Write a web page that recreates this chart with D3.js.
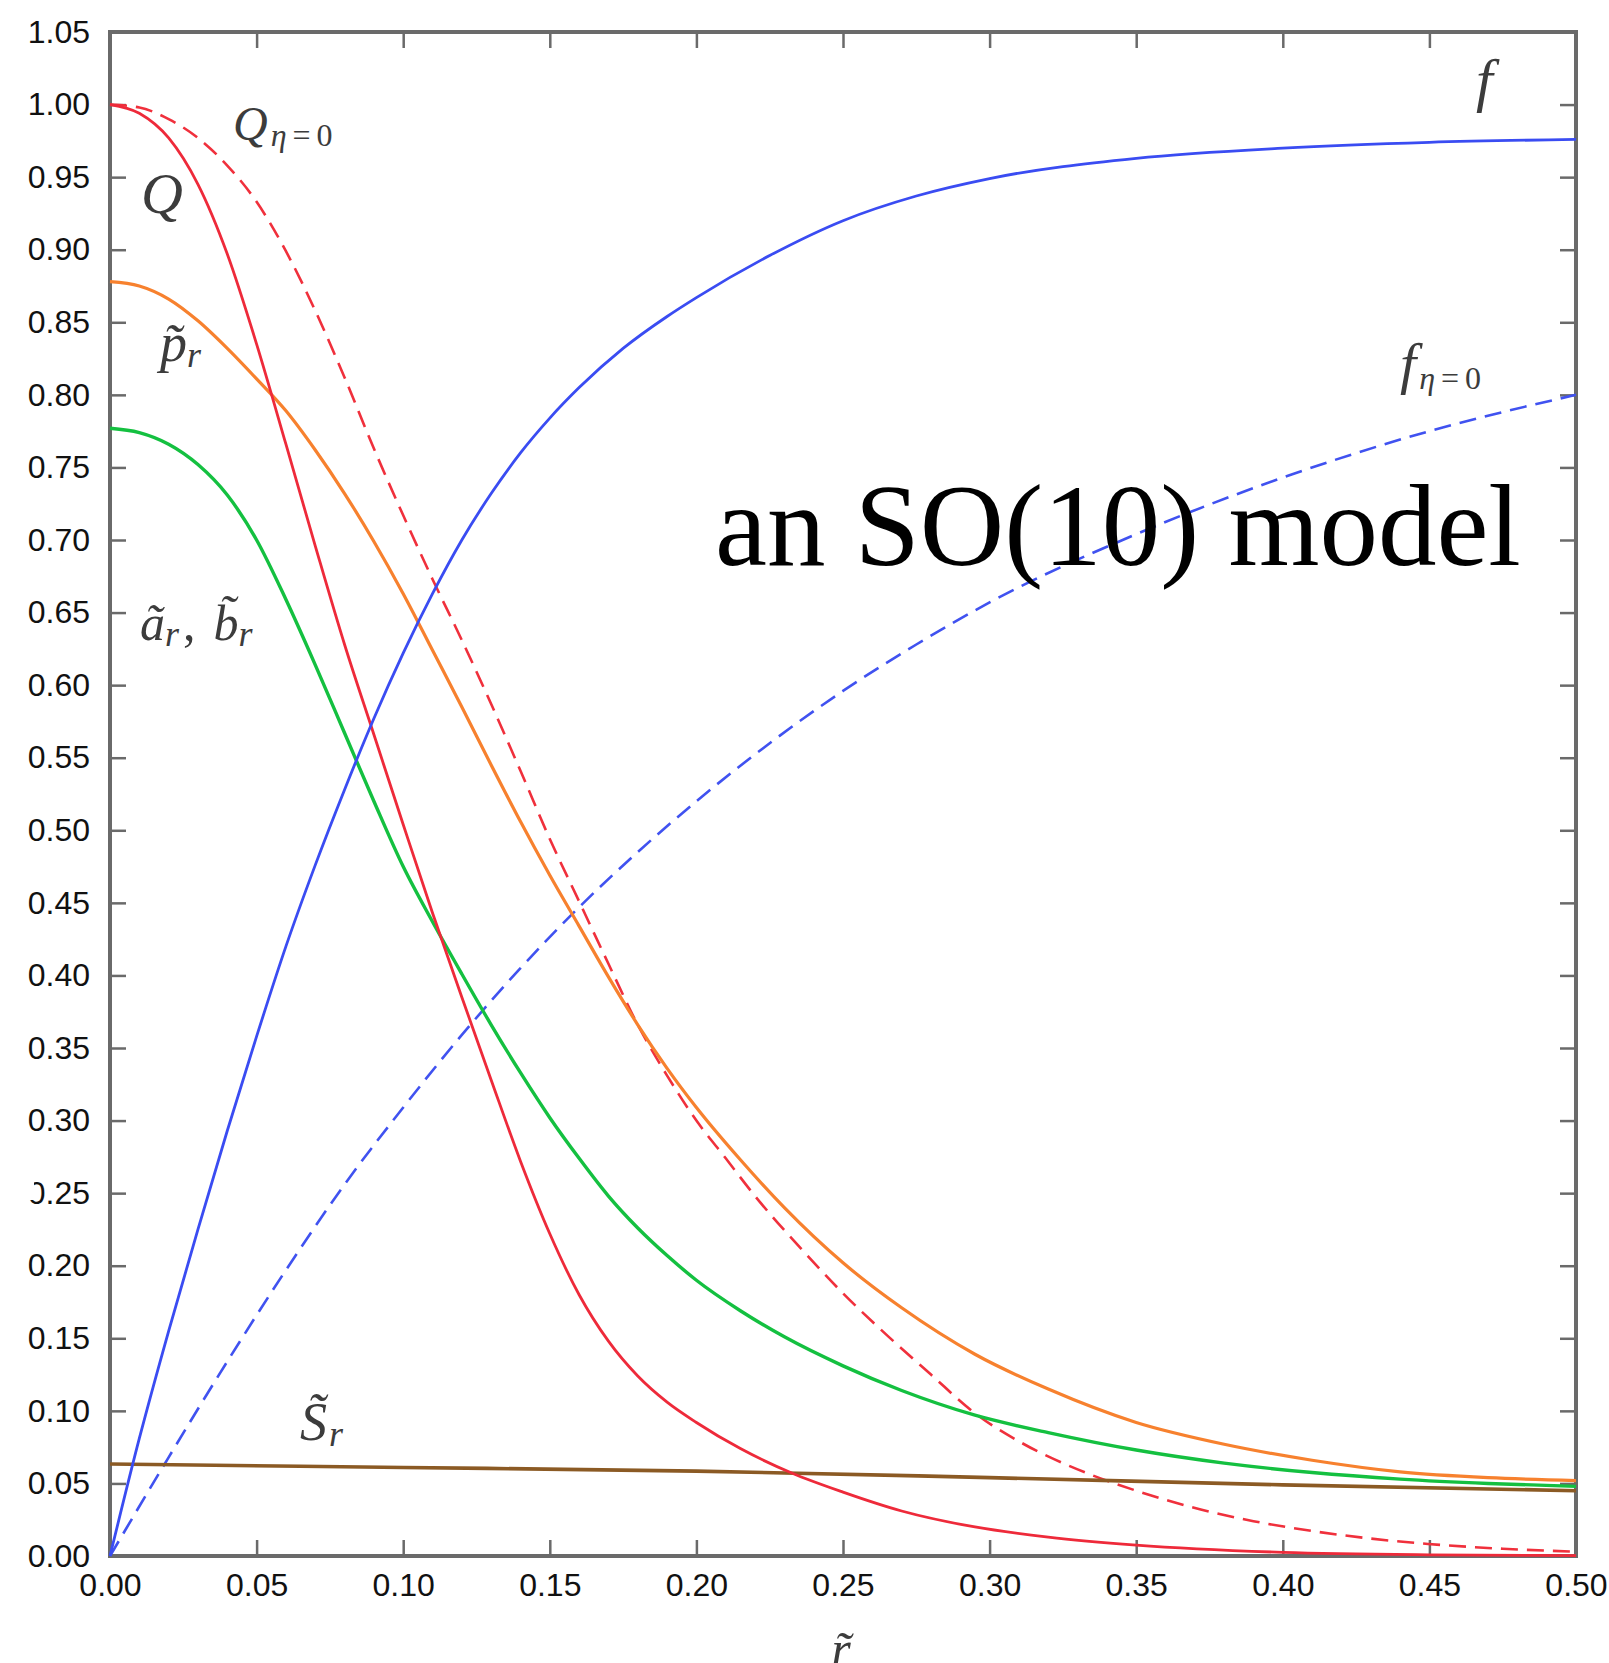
<!DOCTYPE html>
<html>

<head>
  <title>SO(10) model profiles</title>
  <style>
    body { margin: 0; background: #fff; }
  </style>
</head>

<body>

  <svg id="main" width="1609" height="1663"></svg>

  <script src="https://cdn.jsdelivr.net/npm/d3@7/dist/d3.min.js"></script>
  <script>

    // tick values
    const xTicks = [0, 0.05, 0.10, 0.15, 0.20, 0.25, 0.30, 0.35, 0.40, 0.45, 0.50]
    const yTicks = [0, 0.05, 0.10, 0.15, 0.20, 0.25, 0.30, 0.35, 0.40, 0.45, 0.50,
      0.55, 0.60, 0.65, 0.70, 0.75, 0.80, 0.85, 0.90, 0.95, 1.00, 1.05]

    // curves, [r, value]
    const fSolid = [[0, 0], [0.01, 0.081], [0.02, 0.155], [0.03, 0.225], [0.04, 0.293],
      [0.05, 0.358], [0.06, 0.42], [0.07, 0.476], [0.08, 0.528], [0.09, 0.577], [0.10, 0.622],
      [0.11, 0.663], [0.12, 0.70], [0.13, 0.732], [0.14, 0.76], [0.15, 0.784], [0.16, 0.805],
      [0.175, 0.832], [0.19, 0.854], [0.20, 0.867], [0.225, 0.896], [0.25, 0.920],
      [0.275, 0.937], [0.30, 0.949], [0.35, 0.963], [0.40, 0.970], [0.45, 0.974], [0.50, 0.976]]

    const fEta0 = [[0, 0], [0.02, 0.068], [0.04, 0.134], [0.06, 0.197], [0.08, 0.256],
      [0.10, 0.309], [0.12, 0.359], [0.14, 0.405], [0.16, 0.447], [0.18, 0.485], [0.20, 0.520],
      [0.225, 0.560], [0.25, 0.596], [0.275, 0.628], [0.30, 0.657], [0.35, 0.704],
      [0.40, 0.743], [0.45, 0.775], [0.50, 0.80]]

    const qSolid = [[0, 1], [0.01, 0.994], [0.02, 0.977], [0.03, 0.945], [0.04, 0.897],
      [0.05, 0.835], [0.06, 0.766], [0.07, 0.696], [0.08, 0.628], [0.09, 0.566], [0.10, 0.504],
      [0.11, 0.443], [0.12, 0.385], [0.13, 0.328], [0.14, 0.272], [0.15, 0.222], [0.16, 0.180],
      [0.17, 0.148], [0.18, 0.124], [0.19, 0.106], [0.20, 0.092], [0.215, 0.074],
      [0.2327, 0.057], [0.25, 0.044], [0.27, 0.031], [0.295, 0.020], [0.32, 0.013],
      [0.35, 0.0075], [0.40, 0.0025], [0.45, 0.0008], [0.50, 0.0003]]

    const qEta0 = [[0, 1], [0.01, 0.998], [0.02, 0.99], [0.03, 0.977], [0.04, 0.958],
      [0.05, 0.933], [0.06, 0.899], [0.07, 0.858], [0.08, 0.812], [0.09, 0.763], [0.10, 0.717],
      [0.11, 0.673], [0.12, 0.631], [0.13, 0.587], [0.14, 0.541], [0.15, 0.494], [0.16, 0.451],
      [0.17, 0.408], [0.18, 0.366], [0.19, 0.331], [0.20, 0.300], [0.21, 0.274], [0.22, 0.248],
      [0.2365, 0.210], [0.25, 0.181], [0.2656, 0.151], [0.28, 0.125], [0.2946, 0.099],
      [0.31, 0.079], [0.3333, 0.057], [0.35, 0.045], [0.372, 0.032], [0.39, 0.024],
      [0.4108, 0.017], [0.43, 0.012], [0.4495, 0.0083], [0.475, 0.005], [0.50, 0.003]]

    const pR = [[0, 0.878], [0.01, 0.875], [0.02, 0.866], [0.03, 0.851], [0.04, 0.832],
      [0.05, 0.811], [0.06, 0.789], [0.07, 0.762], [0.08, 0.732], [0.09, 0.699], [0.10, 0.663],
      [0.11, 0.624], [0.12, 0.585], [0.13, 0.545], [0.14, 0.506], [0.15, 0.469], [0.16, 0.434],
      [0.17, 0.399], [0.18, 0.366], [0.19, 0.336], [0.20, 0.309], [0.215, 0.273], [0.23, 0.240],
      [0.25, 0.202], [0.27, 0.171], [0.295, 0.139], [0.32, 0.115], [0.35, 0.092], [0.38, 0.077],
      [0.41, 0.066], [0.44, 0.058], [0.47, 0.054], [0.50, 0.052]]

    const aR = [[0, 0.777], [0.01, 0.774], [0.02, 0.766], [0.03, 0.752], [0.04, 0.731],
      [0.05, 0.700], [0.06, 0.659], [0.07, 0.614], [0.08, 0.567], [0.09, 0.520], [0.10, 0.475],
      [0.11, 0.437], [0.12, 0.401], [0.13, 0.366], [0.14, 0.333], [0.15, 0.302], [0.16, 0.274],
      [0.17, 0.248], [0.18, 0.226], [0.19, 0.207], [0.20, 0.190], [0.215, 0.169], [0.23, 0.151],
      [0.25, 0.131], [0.27, 0.114], [0.295, 0.097], [0.32, 0.085], [0.35, 0.073], [0.38, 0.064],
      [0.41, 0.0575], [0.44, 0.053], [0.47, 0.050], [0.50, 0.048]]

    const sR = [[0, 0.0634], [0.1, 0.061], [0.2, 0.0585], [0.3, 0.054], [0.4, 0.049], [0.5, 0.045]]

    const svg = d3.select('#main')
    const margin = { top: 32, right: 33, bottom: 107, left: 110 }
    const width = +svg.attr('width')
    const height = +svg.attr('height')
    const innerWidth = width - margin.left - margin.right
    const innerHeight = height - margin.top - margin.bottom

    const chart = svg.append('g')
      .attr('transform', `translate(${margin.left},${margin.top})`)

    const xScale = d3.scaleLinear().domain([0, 0.5]).range([0, innerWidth])
    const yScale = d3.scaleLinear().domain([0, 1.05]).range([innerHeight, 0])
    const fmt = d3.format('.2f')
    const frameColor = '#6a6a6a'

    // axes, ticks pointing inwards on all four sides
    const axes = [
      [d3.axisBottom(xScale).tickValues(xTicks).tickFormat(fmt).tickPadding(17), `translate(0,${innerHeight})`, true],
      [d3.axisTop(xScale).tickValues(xTicks), 'translate(0,0)', false],
      [d3.axisLeft(yScale).tickValues(yTicks).tickFormat(fmt).tickPadding(20), 'translate(0,0)', true],
      [d3.axisRight(yScale).tickValues(yTicks), `translate(${innerWidth},0)`, false]
    ]
    axes.forEach(([ax, tr, withText]) => {
      const g = chart.append('g')
        .attr('transform', tr)
        .call(ax.tickSizeInner(-16).tickSizeOuter(0))
      g.select('.domain').remove()
      g.selectAll('.tick line').attr('stroke', frameColor).attr('stroke-width', 2.5)
      if (!withText) {
        g.selectAll('.tick text').remove()
        return
      }
      g.selectAll('.tick text')
        .attr('font-family', 'Liberation Sans, Arial, sans-serif')
        .attr('font-size', '32px')
        .attr('fill', '#111')
    })

    chart.append('rect')
      .attr('width', innerWidth)
      .attr('height', innerHeight)
      .attr('fill', 'none')
      .attr('stroke', frameColor)
      .attr('stroke-width', 4)

    const line = d3.line()
      .x(d => xScale(d[0]))
      .y(d => yScale(d[1]))
      .curve(d3.curveMonotoneX)

    const series = [
      { data: fEta0, color: '#4052f0', dash: '17,9', w: 2.6 },
      { data: qEta0, color: '#f0303c', dash: '17,9', w: 2.6 },
      { data: sR, color: '#8b5a24', dash: null, w: 3.6 },
      { data: aR, color: '#14c040', dash: null, w: 3.4 },
      { data: pR, color: '#f7812e', dash: null, w: 3.2 },
      { data: qSolid, color: '#ee2a3a', dash: null, w: 2.8 },
      { data: fSolid, color: '#3a4cf2', dash: null, w: 2.8 }
    ]

    chart.append('g').selectAll('path')
      .data(series)
      .join('path')
      .attr('fill', 'none')
      .attr('stroke', d => d.color)
      .attr('stroke-width', d => d.w)
      .attr('stroke-dasharray', d => d.dash)
      .attr('d', d => line(d.data))

    // curve labels
    const labelFont = 'Liberation Serif, Times New Roman, serif'
    function label(x, y, parts) {
      const t = svg.append('text')
        .attr('x', x).attr('y', y)
        .attr('font-family', labelFont)
        .attr('fill', '#3c3c3c')
      parts.forEach(p => {
        t.append('tspan')
          .attr('font-size', p.size || 54)
          .attr('font-style', p.upright ? 'normal' : 'italic')
          .attr('letter-spacing', p.ls || 0)
          .attr('dx', p.dx || 0)
          .attr('dy', p.dy || 0)
          .text(p.t)
      })
    }

    const etaSub = [{ t: 'η', size: 32, dy: 6, dx: 3, ls: 6 }, { t: '=0', size: 32, upright: true, ls: 6 }]

    label(233, 140, [{ t: 'Q', size: 48 }, ...etaSub])
    label(141, 213, [{ t: 'Q', size: 58 }])
    label(160, 361, [{ t: 'p\u0303' }, { t: 'r', size: 36, dy: 6 }])
    label(140, 640, [{ t: 'a\u0303', size: 50 }, { t: 'r', size: 36, dy: 6 }, { t: ',', size: 50, upright: true, dy: -6, dx: 4 },
      { t: 'b\u0303', size: 50, dx: 18 }, { t: 'r', size: 36, dy: 6 }])
    label(300, 1440, [{ t: 'S\u0303' }, { t: 'r', size: 36, dy: 6, dx: 2 }])
    label(1476, 100, [{ t: 'f', size: 60 }])
    label(1400, 383, [{ t: 'f', size: 58 }, ...etaSub])

    // x axis title, partly below the visible page
    svg.append('text')
      .attr('x', margin.left + xScale(0.25) - 2)
      .attr('y', 1666)
      .attr('text-anchor', 'middle')
      .attr('font-family', labelFont)
      .attr('font-style', 'italic')
      .attr('font-size', 50)
      .attr('fill', '#3c3c3c')
      .text('r\u0303')

    // the first digit of the 0.25 label is clipped in the original
    svg.append('rect')
      .attr('x', 0).attr('y', 1160)
      .attr('width', 34).attr('height', 40)
      .attr('fill', '#fff')

    // overlaid caption
    svg.append('text')
      .attr('x', 715)
      .attr('y', 565)
      .attr('font-family', labelFont)
      .attr('font-size', 117)
      .attr('fill', '#000')
      .text('an SO(10) model')

  </script>
</body>

</html>
